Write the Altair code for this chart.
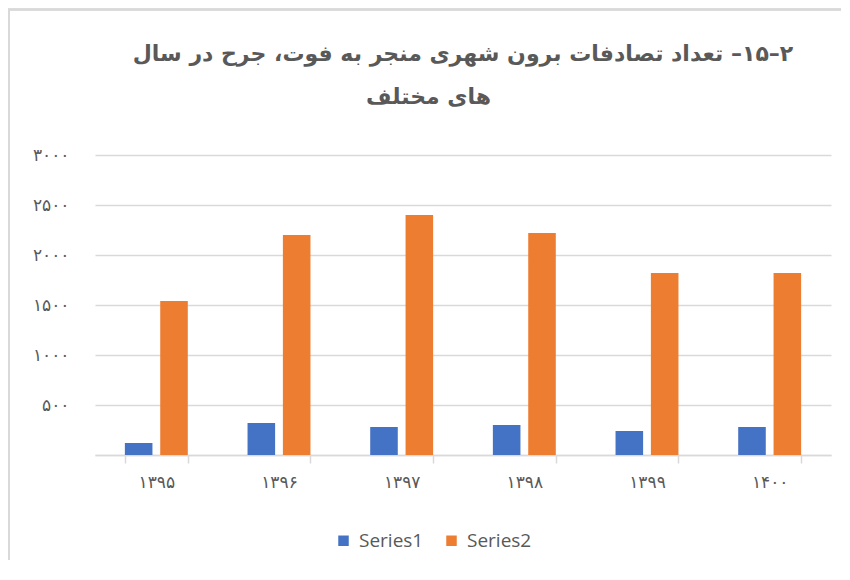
import altair as alt
import pandas as pd

years = ["۱۳۹۵", "۱۳۹۶", "۱۳۹۷", "۱۳۹۸", "۱۳۹۹", "۱۴۰۰"]
series1 = [120, 320, 280, 300, 240, 280]
series2 = [1540, 2200, 2400, 2220, 1820, 1820]
series_names = ["Series1", "Series2"]
colors = ["#4472C4", "#ED7D31"]
y_ticks = [0, 500, 1000, 1500, 2000, 2500, 3000]
y_tick_labels = ["", "۵۰۰", "۱۰۰۰", "۱۵۰۰", "۲۰۰۰", "۲۵۰۰", "۳۰۰۰"]
title_lines = [
    "\u202B۲–۱۵– تعداد تصادفات برون شهری منجر به فوت، جرح در سال\u202C",
    "\u202B" + "\u00A0" * 9 + "های مختلف\u202C",
]

rows = []
for i, yr in enumerate(years):
    rows.append({"year": yr, "series": series_names[0], "value": series1[i]})
    rows.append({"year": yr, "series": series_names[1], "value": series2[i]})
df = pd.DataFrame(rows)

label_expr = "''"
for v, lab in zip(y_ticks, y_tick_labels):
    label_expr = f"datum.value == {v} ? '{lab}' : ({label_expr})"

W, H = 736, 300
PAD_L, PAD_T = 87, 147

bars = alt.Chart(df).mark_bar().encode(
    x=alt.X(
        "year:N",
        sort=years,
        title=None,
        scale=alt.Scale(paddingInner=0.487, paddingOuter=0.2435),
        axis=alt.Axis(
            labelAngle=0,
            tickBand="extent",
            tickSize=8,
            tickColor="#d9d9d9",
            tickWidth=1.5,
            domainColor="#d9d9d9",
            domainWidth=1.5,
            labelFontSize=17,
            labelColor="#595959",
            labelFont="DejaVu Sans",
            labelPadding=11,
            grid=False,
        ),
    ),
    xOffset=alt.XOffset("series:N", sort=series_names,
                        scale=alt.Scale(paddingInner=0.22)),
    y=alt.Y(
        "value:Q",
        title=None,
        scale=alt.Scale(domain=[0, 3000], nice=False),
        axis=alt.Axis(
            values=y_ticks,
            labelExpr=label_expr,
            domain=False,
            ticks=False,
            grid=True,
            gridColor="#d9d9d9",
            gridWidth=1.5,
            labelFontSize=17,
            labelColor="#595959",
            labelFont="DejaVu Sans",
            labelPadding=26,
        ),
    ),
    color=alt.Color(
        "series:N",
        sort=series_names,
        scale=alt.Scale(domain=series_names, range=colors),
        legend=alt.Legend(
            title=None,
            orient="none",
            direction="horizontal",
            legendX=239,
            legendY=376,
            symbolType="square",
            symbolSize=110,
            symbolStrokeWidth=0,
            labelFontSize=19,
            labelColor="#595959",
            labelFont="Open Sans",
            columnPadding=18,
            labelOffset=6,
        ),
    ),
)

border_top = alt.Chart(df).mark_rule(color="#d9d9d9", strokeWidth=1.5).encode(
    x=alt.value(-PAD_L), x2=alt.value(W + 10), y=alt.value(-PAD_T + 1.5)
)
border_left = alt.Chart(df).mark_rule(color="#d9d9d9", strokeWidth=1.5).encode(
    x=alt.value(-PAD_L + 1), y=alt.value(-PAD_T + 1.5), y2=alt.value(H + 105)
)

chart = alt.layer(bars, border_top, border_left).properties(
    width=W,
    height=H,
    autosize=alt.AutoSizeParams(type="none"),
    padding={"left": PAD_L, "top": PAD_T, "right": 10, "bottom": 105},
    title=alt.TitleParams(
        text=title_lines,
        fontSize=22,
        fontWeight="bold",
        color="#595959",
        font="DejaVu Sans",
        anchor="middle",
        baseline="alphabetic",
        lineHeight=43,
        offset=20,
        dy=137,
    ),
).configure_view(stroke=None)

chart.save("out.html", embed_options={"renderer": "svg", "actions": False})
